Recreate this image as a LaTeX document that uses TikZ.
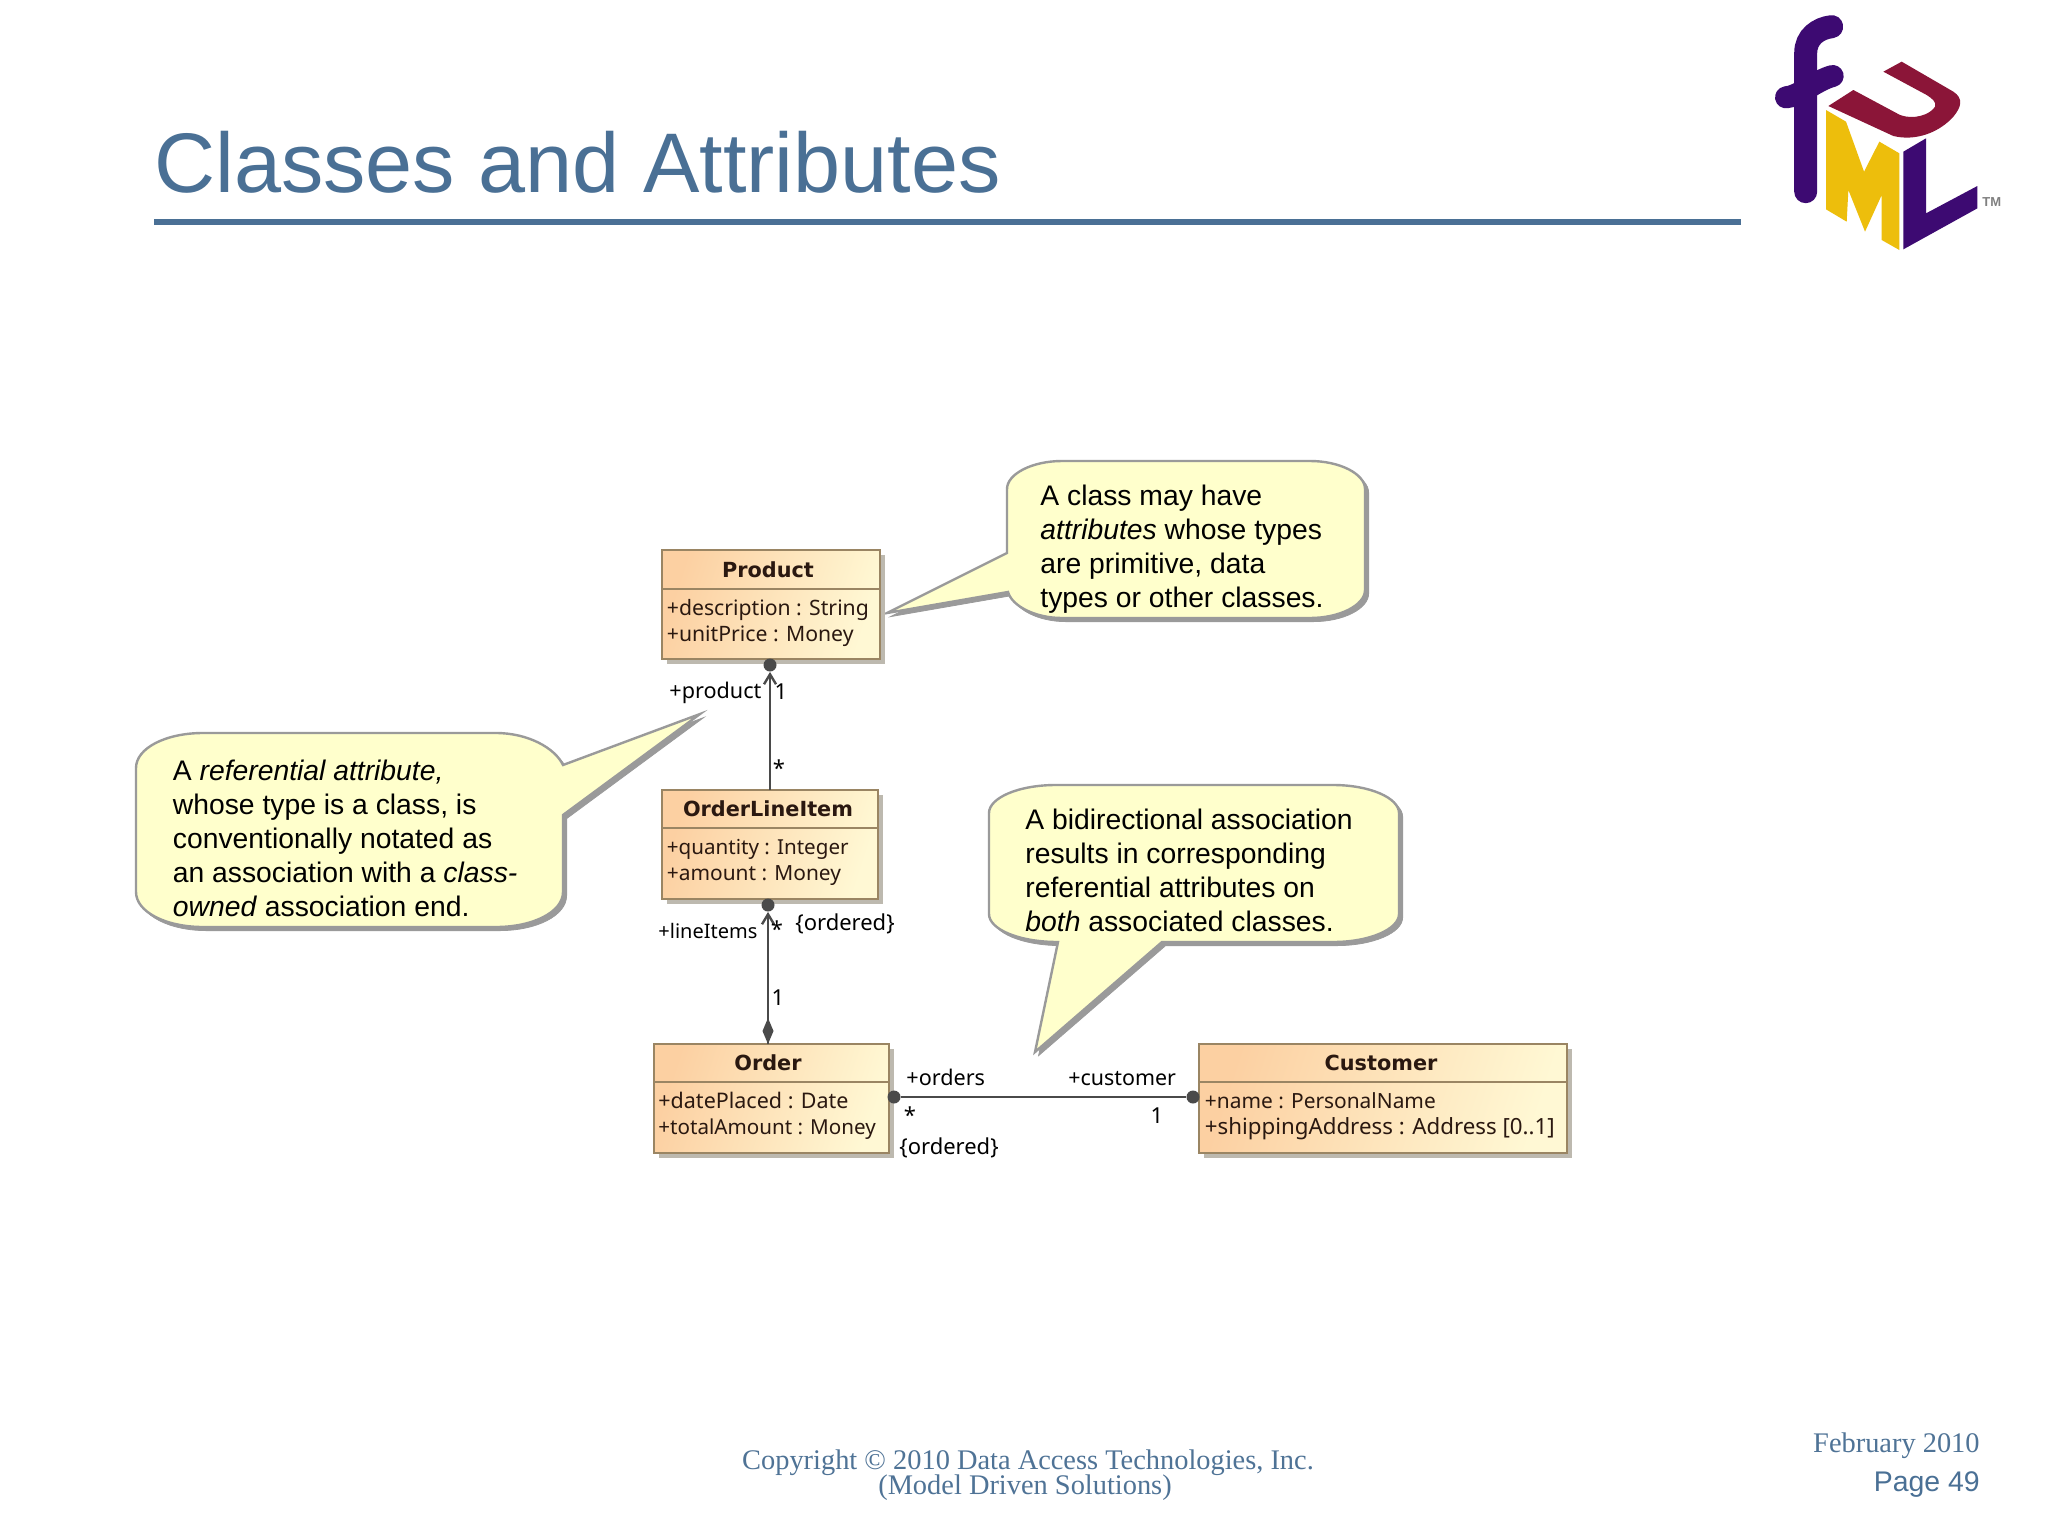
\documentclass[tikz,border=0pt]{standalone}
\usepackage{fontspec}
\setmainfont{Liberation Sans}
\newfontfamily\timesf{Liberation Serif}
\newfontfamily\umlf{Noto Sans}
\newfontfamily\umlb{DejaVu Sans}
\usetikzlibrary{arrows.meta}
\definecolor{slate}{HTML}{4A7095}
\definecolor{slatetext}{HTML}{4F7396}
\definecolor{bubblefill}{HTML}{FFFFCC}
\definecolor{bubbleedge}{HTML}{9A9A9A}
\definecolor{boxedge}{HTML}{9A8563}
\definecolor{boxshadow}{HTML}{BDB9AF}
\definecolor{orangeA}{HTML}{FCD0A2}
\definecolor{orangeB}{HTML}{FFF8D4}
\definecolor{linkc}{HTML}{4A4A4A}
\definecolor{inktext}{HTML}{2A1810}
\definecolor{logoP}{HTML}{3D0A72}
\definecolor{logoR}{HTML}{8B1538}
\definecolor{logoY}{HTML}{EDBE0C}
\newcommand\umlsize[1]{\umlf\fontsize{#1}{13}\selectfont}
\tikzset{
  x=0.5pt,y=-0.5pt,
  classbox/.style={draw=boxedge,line width=0.8pt,inner sep=0pt,outer sep=0pt,anchor=north west,
    top color=orangeA,bottom color=orangeB,shading angle=72,
    preaction={fill=boxshadow,transform canvas={xshift=2.5pt,yshift=-2.5pt}}},
  divider/.style={draw=boxedge,line width=0.8pt},
  classname/.style={font=\umlb\bfseries\fontsize{10.4}{12}\selectfont,text=inktext,anchor=base,inner sep=0pt},
  attrs/.style={font=\umlsize{#1},text=inktext,anchor=base west,inner sep=0pt},
  endlabel/.style={font=\umlsize{#1},text=black,anchor=base west,inner sep=0pt},
  mult/.style={font=\umlsize{11},text=black,anchor=center,inner sep=0pt},
  bubble/.style={fill=bubblefill,draw=bubbleedge,line width=1.2pt,line join=miter,
    preaction={fill=bubbleedge,draw=bubbleedge,transform canvas={xshift=1.8pt,yshift=-1.8pt}}},
  bubbletext/.style={font=\fontsize{14.15}{17}\selectfont,text=black,anchor=north west,align=left,inner sep=0pt},
  linkline/.style={draw=linkc,line width=1.2pt},
  enddot/.style={circle,fill=linkc,inner sep=0pt,minimum size=6.5pt},
}
\begin{document}
\begin{tikzpicture}
\useasboundingbox (0,0) rectangle (2048,1536);
\fill[white] (0,0) rectangle (2048,1536);

% title
\node[font=\fontsize{42.3}{50}\selectfont,text=slate,anchor=base west,inner sep=0pt] (title) at (154,192) {Classes and Attributes};
\draw[slate,line width=3pt] (154,222) -- (1741,222);

% logo
\begin{scope}[shift={(1740,0)},x=0.16667pt,y=-0.16667pt]
  \draw[logoP,line width=11.5pt,line cap=round] (197,575) -- (197,160) .. controls (197,110) and (235,85) .. (275,80);
  \draw[logoP,line width=11pt,line cap=round] (138,292) .. controls (175,290) and (230,240) .. (278,228);
  \fill[logoR] (430,215) -- (485,185) -- (640,275) .. controls (670,295) and (665,320) .. (640,350) .. controls (600,395) and (530,425) .. (460,408) -- (265,318) -- (340,270) -- (480,345) .. controls (520,360) and (570,345) .. (585,320) .. controls (590,305) and (575,295) .. (560,285) -- cycle;
  \fill[logoY] (258,330) -- (318,365) -- (372,515) -- (418,425) -- (478,460) -- (478,750) -- (425,720) -- (425,585) -- (375,695) -- (325,570) -- (320,665) -- (258,628) -- cycle;
  \fill[logoP] (490,455) -- (558,415) -- (558,640) -- (712,558) -- (712,625) -- (490,748) -- cycle;
  \node[font=\bfseries\fontsize{6.5}{7}\selectfont,text=gray,inner sep=0pt] (tm) at (755,607) {TM};
\end{scope}

% callout 1
\draw[bubble] (1062,461) -- (1310,461) .. controls (1340,461) and (1365,474) .. (1365,489) -- (1365,590) .. controls (1365,605) and (1340,618) .. (1310,618) -- (1062,618) .. controls (1035,618) and (1012,606) .. (1008,592) -- (887,613) -- (1007,553) -- (1007,489) .. controls (1007,474) and (1032,461) .. (1062,461) -- cycle;
\node[bubbletext] (noteA) at (1040,484.5) {A class may have\\\textit{attributes} whose types\\are primitive, data\\types or other classes.};

% callout 2
\draw[bubble] (203,733) -- (496,733) .. controls (528,733) and (555,748) .. (563,765) -- (700,714) -- (563,815) -- (563,892) .. controls (563,912) and (533,927) .. (496,927) -- (203,927) .. controls (166,927) and (136,912) .. (136,892) -- (136,768) .. controls (136,748) and (166,733) .. (203,733) -- cycle;
\node[bubbletext] (noteB) at (172.5,759.5) {A \textit{referential attribute,}\\whose type is a class, is\\conventionally notated as\\an association with a \textit{class-}\\\textit{owned} association end.};

% callout 3
\draw[bubble] (1056,785) -- (1333,785) .. controls (1370,785) and (1399,798) .. (1399,813) -- (1399,914) .. controls (1399,929) and (1370,942) .. (1333,942) -- (1162,942) -- (1035,1052) -- (1058,942) .. controls (1018,942) and (989,929) .. (989,914) -- (989,813) .. controls (989,798) and (1018,785) .. (1056,785) -- cycle;
\node[bubbletext] (noteC) at (1025,808.5) {A bidirectional association\\results in corresponding\\referential attributes on\\\textit{both} associated classes.};

% classes
\node[classbox,minimum width=109pt,minimum height=54.5pt] (prod) at (662,550) {};
\draw[divider] ([yshift=-19.5pt]prod.north west) -- ([yshift=-19.5pt]prod.north east);
\node[classname] (prodN) at (768,577) {Product};
\node[attrs=10.6] (prodA) at (666.5,615) {+description : String};
\node[attrs=10.6] (prodB) at (666.5,641) {+unitPrice : Money};

\node[classbox,minimum width=108pt,minimum height=54.5pt] (oli) at (662,790) {};
\draw[divider] ([yshift=-19pt]oli.north west) -- ([yshift=-19pt]oli.north east);
\node[classname] (oliN) at (768,816) {OrderLineItem};
\node[attrs=10.3] (oliA) at (666.5,854) {+quantity : Integer};
\node[attrs=10.45] (oliB) at (666.5,880) {+amount : Money};

\node[classbox,minimum width=117.5pt,minimum height=54.5pt] (ord) at (654,1044) {};
\draw[divider] ([yshift=-19pt]ord.north west) -- ([yshift=-19pt]ord.north east);
\node[classname] (ordN) at (768,1070) {Order};
\node[attrs=10.75] (ordA) at (658,1108) {+datePlaced : Date};
\node[attrs=10.3] (ordB) at (658,1134) {+totalAmount : Money};

\node[classbox,minimum width=184pt,minimum height=54.5pt] (cust) at (1199,1044) {};
\draw[divider] ([yshift=-19pt]cust.north west) -- ([yshift=-19pt]cust.north east);
\node[classname] (custN) at (1381,1070) {Customer};
\node[attrs=10.45] (custA) at (1204.5,1108) {+name : PersonalName};
\node[attrs=11.15] (custB) at (1204.5,1134) {+shippingAddress : Address [0..1]};

% connectors
\node[enddot] (d1) at (770,665) {};
\draw[linkline,-{Straight Barb[length=5pt,width=6pt]}] (oli.north) -- (d1.south);
\node[enddot] (d2) at (768,905) {};
\coordinate (dmd) at (768,1044);
\draw[linkline,-{Straight Barb[length=5pt,width=6pt]}] (dmd) -- (d2.south);
\fill[linkc] (dmd) -- ([shift={(-5.5,-13)}]dmd) -- ([shift={(0,-26)}]dmd) -- ([shift={(5.5,-13)}]dmd) -- cycle;
\node[enddot] (d3) at (894,1097) {};
\node[enddot] (d4) at (1193,1097) {};
\draw[linkline] (d3) -- (d4);

% end labels
\node[endlabel=10.8] (l1) at (669,698) {+product};
\node[mult] (l2) at (781,692) {1};
\node[mult] (l3) at (779,768) {*};
\node[endlabel=10] (l4) at (658,938) {+lineItems};
\node[mult] (l5) at (777,929) {*};
\node[endlabel=11] (l6) at (795,930) {\{ordered\}};
\node[mult] (l7) at (778,998) {1};
\node[endlabel=10.8] (l8) at (906,1085) {+orders};
\node[endlabel=10.7] (l9) at (1068,1085) {+customer};
\node[mult] (l10) at (910,1115) {*};
\node[mult] (l11) at (1157,1116) {1};
\node[endlabel=11] (l12) at (899,1154) {\{ordered\}};

% footer
\node[font=\timesf\fontsize{14.2}{16}\selectfont,text=slatetext,anchor=base,inner sep=0pt] (c1) at (1028,1469) {Copyright © 2010 Data Access Technologies, Inc.};
\node[font=\timesf\fontsize{14.2}{16}\selectfont,text=slatetext,anchor=base,inner sep=0pt] (c2) at (1025,1494) {(Model Driven Solutions)};
\node[font=\timesf\fontsize{14.2}{16}\selectfont,text=slatetext,anchor=base east,inner sep=0pt] (dt) at (1980,1452) {February 2010};
\node[font=\fontsize{14.2}{16}\selectfont,text=slate,anchor=base east,inner sep=0pt] (pg) at (1980,1491) {Page 49};
\end{tikzpicture}
\end{document}
